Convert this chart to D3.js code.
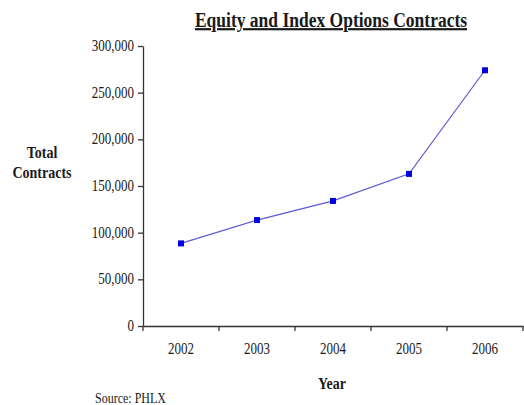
<!DOCTYPE html>
<html>
<head>
<meta charset="utf-8">
<script src="https://cdn.jsdelivr.net/npm/d3@7"></script>
<style>
    body { margin: 0; background: #fff; }
    text { font-family: "Liberation Serif", "Times New Roman", serif; fill: #1a1a1a; }
</style>
</head>
<body>
<div id="chart"></div>
<script>
// data
const years = ["2002", "2003", "2004", "2005", "2006"];
const contracts = [88500, 113500, 134000, 163000, 274000];
const yTicks = [0, 50000, 100000, 150000, 200000, 250000, 300000];

const W = 524, H = 405;
const stretch = 1.25; // text in the picture is a bit tall

let svg = d3.select("#chart").append("svg")
    .attr("width", W)
    .attr("height", H);

let xScale = d3.scaleBand()
    .domain(years)
    .range([143, 523]);

let yScale = d3.scaleLinear()
    .domain([0, 300000])
    .range([326, 46]);

// helper for stretched labels, (x, y) = baseline
function label(x, y, str, size, weight, anchor) {
    return svg.append("g")
        .attr("transform", `translate(${x}, ${y})`)
        .append("text")
        .attr("transform", `scale(1, ${stretch})`)
        .attr("text-anchor", anchor || "middle")
        .style("font-size", size + "px")
        .style("font-weight", weight || "normal")
        .text(str);
}

// y axis
let yAxis = d3.axisLeft(yScale)
    .tickValues(yTicks)
    .tickFormat(d3.format(","))
    .tickSize(5)
    .tickSizeOuter(0)
    .tickPadding(4);

let gy = svg.append("g")
    .attr("class", "yAxis")
    .attr("transform", `translate(143, 0)`)
    .call(yAxis);

gy.selectAll("text")
    .attr("transform", `scale(1, ${stretch})`)
    .attr("dy", "0.28em")
    .style("font-size", "13px");

// x axis (labels at band centres, ticks at band edges)
let xAxis = d3.axisBottom(xScale)
    .tickSize(0)
    .tickPadding(13);

let gx = svg.append("g")
    .attr("class", "xAxis")
    .attr("transform", `translate(0, 326)`)
    .call(xAxis);

gx.selectAll("text")
    .attr("transform", `scale(1, ${stretch})`)
    .style("font-size", "13px");

gx.selectAll(".edge")
    .data(years.concat(["end"]))
    .enter()
    .append("line")
    .attr("class", "edge")
    .attr("x1", d => d === "end" ? xScale.range()[1] : xScale(d))
    .attr("x2", d => d === "end" ? xScale.range()[1] : xScale(d))
    .attr("y1", 0)
    .attr("y2", 5);

svg.selectAll(".domain, .tick line, .edge")
    .attr("stroke", "#333")
    .attr("stroke-width", 1.3);

// the line
let pts = years.map((y, i) => ({ year: y, value: contracts[i] }));

let line = d3.line()
    .x(d => xScale(d.year) + xScale.bandwidth() / 2)
    .y(d => yScale(d.value));

svg.append("path")
    .datum(pts)
    .attr("d", line)
    .attr("fill", "none")
    .attr("stroke", "#5a5ad2")
    .attr("stroke-width", 1.2);

svg.selectAll(".marker")
    .data(pts)
    .enter()
    .append("rect")
    .attr("class", "marker")
    .attr("x", d => xScale(d.year) + xScale.bandwidth() / 2 - 3)
    .attr("y", d => yScale(d.value) - 3)
    .attr("width", 6)
    .attr("height", 6)
    .attr("fill", "#0000e0");

// titles
label(331, 27, "Equity and Index Options Contracts", 17.5, "bold")
    .style("text-decoration", "underline");

label(42, 158, "Total", 14, "bold");
label(42, 178, "Contracts", 14, "bold");
label(332, 389, "Year", 14, "bold");
label(95, 403, "Source: PHLX", 12, "normal", "start");
</script>
</body>
</html>
